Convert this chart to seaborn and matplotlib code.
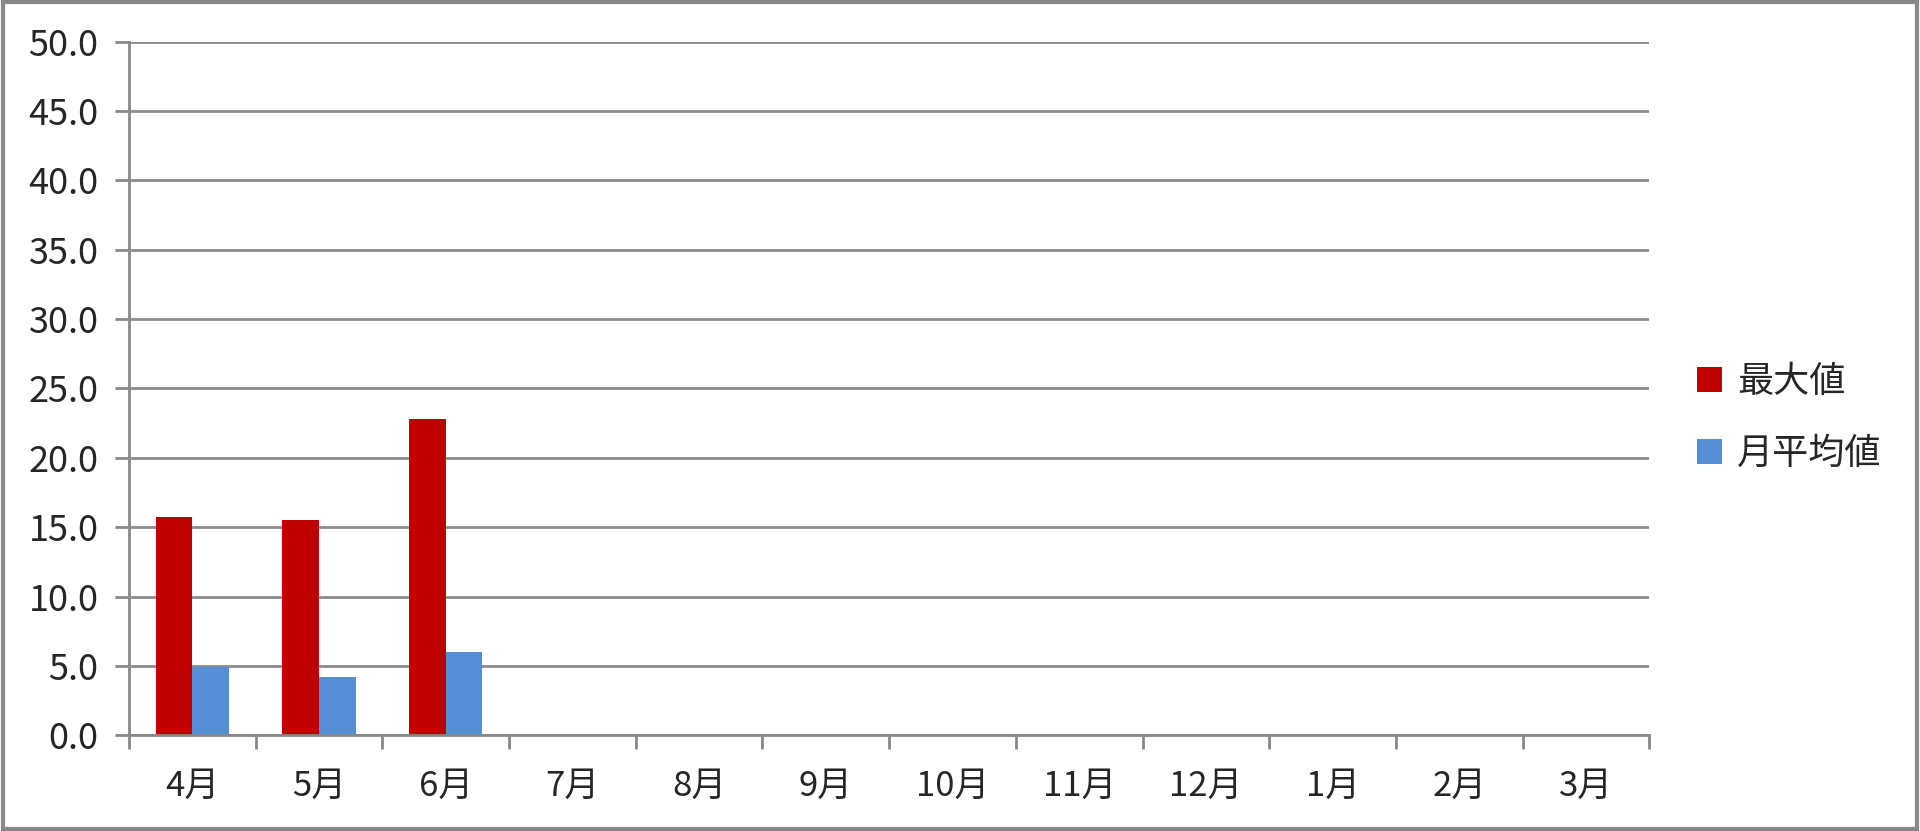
import numpy as np
import pandas as pd
import seaborn as sns
import matplotlib.pyplot as plt
from matplotlib.patches import Rectangle, Patch

months = ["4月", "5月", "6月", "7月", "8月", "9月", "10月", "11月", "12月", "1月", "2月", "3月"]
max_vals = [15.7, 15.5, 22.8] + [np.nan] * 9
avg_vals = [4.9, 4.2, 6.0] + [np.nan] * 9
series = ["最大値", "月平均値"]
colors = ["#C00000", "#558ED5"]

df = pd.DataFrame({
    "month": months * 2,
    "value": max_vals + avg_vals,
    "series": [series[0]] * 12 + [series[1]] * 12,
})

sns.set_theme(style="white")
plt.rcParams["font.family"] = ["Noto Sans CJK JP", "DejaVu Sans"]

fig = plt.figure(figsize=(19.2, 8.31), dpi=100)
ax = fig.add_axes([0.0672, 0.1152, 0.7918, 0.8348])

sns.barplot(data=df, x="month", y="value", hue="series", order=months,
            hue_order=series, palette=colors, width=0.58, gap=0,
            saturation=1, dodge=True, legend=False, linewidth=0,
            edgecolor="none", ax=ax)

ax.set_ylim(0, 50)
ax.set_xlim(-0.5, 11.5)
ax.set_yticks(np.arange(0, 51, 5))
ax.set_yticklabels([f"{v:.1f}" for v in np.arange(0, 51, 5)], fontsize=26)
ax.set_xticks(range(12))
ax.set_xticklabels(months, fontsize=25)
ax.set_xticks(np.arange(-0.5, 12, 1), minor=True)
ax.tick_params(axis="x", which="major", length=0, pad=24)
ax.tick_params(axis="x", which="minor", length=10, width=2, color="#888888", direction="out", bottom=True)
ax.tick_params(axis="y", length=10, width=2, color="#888888", direction="out", left=True, pad=12)
ax.yaxis.grid(True, color="#8c8c8c", linewidth=2)
ax.set_axisbelow(True)
ax.set_xlabel("")
ax.set_ylabel("")
for side in ["top", "right"]:
    ax.spines[side].set_visible(False)
for side in ["left", "bottom"]:
    ax.spines[side].set_color("#888888")
    ax.spines[side].set_linewidth(2)

handles = [Patch(facecolor=c, edgecolor="none") for c in colors]
fig.legend(handles, series, loc="center left", bbox_to_anchor=(0.867, 0.497),
           frameon=False, fontsize=26, handlelength=0.7, handleheight=0.7,
           handletextpad=0.4, labelspacing=1.0)

fig.patches.append(Rectangle((0.0015, 0.002), 0.997, 0.996, transform=fig.transFigure,
                             fill=False, edgecolor="#888888", linewidth=3))

fig.savefig("out.png", dpi=100)
